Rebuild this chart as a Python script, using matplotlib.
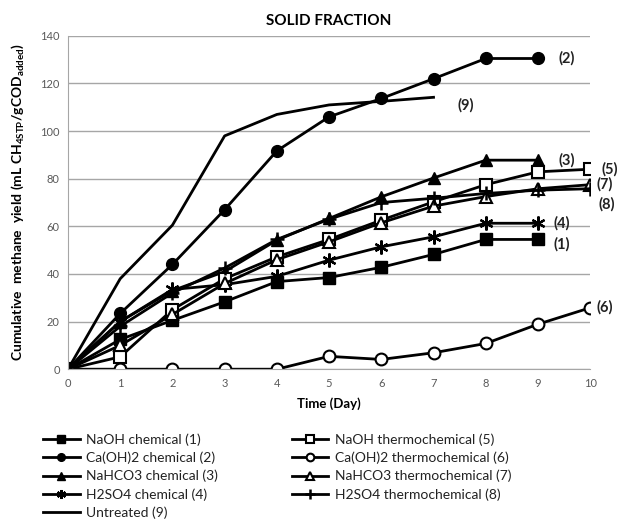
import matplotlib
matplotlib.use("Agg")
import matplotlib.pyplot as plt

plt.rcParams['font.family'] = ['Lato', 'DejaVu Sans']
plt.rcParams['mathtext.fontset'] = 'custom'
plt.rcParams['mathtext.rm'] = 'Lato'
plt.rcParams['mathtext.bf'] = 'Lato:bold'

# Cumulative methane yield per day (mL CH4 STP / g COD added)
days_9 = [0, 1, 2, 3, 4, 5, 6, 7, 8, 9]
days_10 = [0, 1, 2, 3, 4, 5, 6, 7, 8, 9, 10]
days_7 = [0, 1, 2, 3, 4, 5, 6, 7]

naoh_chem = [0, 12.5, 20.5, 28.3, 36.8, 38.5, 42.8, 48.2, 54.5, 54.5]
caoh2_chem = [0, 23.4, 44.0, 67.0, 91.7, 106.0, 113.7, 122.0, 130.5, 130.5]
nahco3_chem = [0, 20.0, 33.0, 41.0, 54.2, 63.3, 72.4, 80.3, 87.8, 87.8]
h2so4_chem = [0, 20.0, 33.5, 35.5, 39.0, 45.8, 51.4, 55.6, 61.3, 61.3]
naoh_thermo = [0, 5.2, 25.0, 38.0, 47.2, 54.5, 62.6, 70.3, 77.5, 82.9, 84.0]
caoh2_thermo = [0, 0, 0, 0, 0, 5.4, 4.1, 6.9, 10.8, 18.9, 25.8]
nahco3_thermo = [0, 10.0, 23.0, 36.0, 46.0, 53.5, 61.5, 68.5, 72.5, 75.8, 77.5]
h2so4_thermo = [0, 18.0, 32.0, 42.5, 54.5, 63.0, 70.0, 71.8, 73.8, 75.2, 75.8]
untreated = [0, 38.0, 60.5, 98.0, 107.0, 111.0, 112.5, 114.2]

series_labels = ["NaOH chemical (1)", "Ca(OH)2 chemical (2)", "NaHCO3 chemical (3)",
                 "H2SO4 chemical (4)", "NaOH thermochemical (5)",
                 "Ca(OH)2 thermochemical (6)", "NaHCO3 thermochemical (7)",
                 "H2SO4 thermochemical (8)", "Untreated (9)"]
end_tags = ["(1)", "(2)", "(3)", "(4)", "(5)", "(6)", "(7)", "(8)", "(9)"]

fig = plt.figure(figsize=(6.18, 5.20), dpi=100)
ax = fig.add_axes([0.110, 0.290, 0.845, 0.641])

lw = 2.0
k = 'black'
common = dict(color=k, lw=lw)
h1, = ax.plot(days_9, naoh_chem, marker='s', ms=8, mfc=k, mec=k, label=series_labels[0], **common)
h2, = ax.plot(days_9, caoh2_chem, marker='o', ms=8.5, mfc=k, mec=k, label=series_labels[1], **common)
h3, = ax.plot(days_9, nahco3_chem, marker='^', ms=8.5, mfc=k, mec=k, label=series_labels[2], **common)
h4, = ax.plot(days_9, h2so4_chem, marker=(6, 2, 0), ms=10, mew=1.6, mec=k, label=series_labels[3], **common)
h5, = ax.plot(days_10, naoh_thermo, marker='s', ms=8, mfc='white', mec=k, mew=1.5, label=series_labels[4], **common)
h6, = ax.plot(days_10, caoh2_thermo, marker='o', ms=8.5, mfc='white', mec=k, mew=1.5, label=series_labels[5], **common)
h7, = ax.plot(days_10, nahco3_thermo, marker='^', ms=8.5, mfc='white', mec=k, mew=1.5, label=series_labels[6], **common)
h8, = ax.plot(days_10, h2so4_thermo, marker='+', ms=10, mew=1.8, mec=k, label=series_labels[7], **common)
h9, = ax.plot(days_7, untreated, label=series_labels[8], **common)

# Series tags at the end of each curve
tag_kw = dict(fontsize=10.5, fontweight='bold', color='#222222', va='center', ha='left', clip_on=False)
ax.text(days_9[-1] + 0.4, caoh2_chem[-1], end_tags[1], **tag_kw)
ax.text(days_7[-1] + 0.45, untreated[-1] - 3.5, end_tags[8], **tag_kw)
ax.text(days_9[-1] + 0.4, nahco3_chem[-1], end_tags[2], **tag_kw)
ax.text(days_10[-1] + 0.22, naoh_thermo[-1], end_tags[4], **tag_kw)
ax.text(days_10[-1] + 0.12, nahco3_thermo[-1], end_tags[6], **tag_kw)
ax.text(days_10[-1] + 0.15, h2so4_thermo[-1] - 6.5, end_tags[7], **tag_kw)
ax.text(days_9[-1] + 0.3, h2so4_chem[-1], end_tags[3], **tag_kw)
ax.text(days_9[-1] + 0.3, naoh_chem[-1] - 2, end_tags[0], **tag_kw)
ax.text(days_10[-1] + 0.12, caoh2_thermo[-1], end_tags[5], **tag_kw)

ax.set_xlim(0, 10)
ax.set_ylim(0, 140)
ax.set_xticks(range(0, 11))
ax.set_yticks(range(0, 141, 20))
ax.yaxis.grid(True, color='#a6a6a6', lw=1.0)
ax.set_axisbelow(True)
for s in ['top', 'right']:
    ax.spines[s].set_visible(False)
ax.spines['left'].set_color('#a6a6a6')
ax.spines['bottom'].set_color('#a6a6a6')
ax.tick_params(axis='both', length=0, labelsize=8, labelcolor='#595959', pad=6)

ax.set_title("SOLID FRACTION", fontsize=11, fontweight='bold', pad=8)
ax.set_xlabel("Time (Day)", fontsize=9.5, fontweight='bold', labelpad=6)
ax.set_ylabel(r"Cumulative  methane  yield (mL CH$_{\mathbf{4STP}}$/gCOD$_{\mathbf{added}}$)",
              fontsize=10, fontweight='bold', labelpad=10)

handles = [h1, h2, h3, h4, h9, h5, h6, h7, h8]
fig.legend(handles=handles, labels=[h.get_label() for h in handles], ncol=2,
           loc='upper left', bbox_to_anchor=(0.05, 0.19), frameon=False,
           fontsize=10, handlelength=2.6, handletextpad=0.5, labelspacing=0.4,
           columnspacing=5.3, markerscale=0.65, labelcolor='#222222')

fig.savefig("out.png", dpi=100)
